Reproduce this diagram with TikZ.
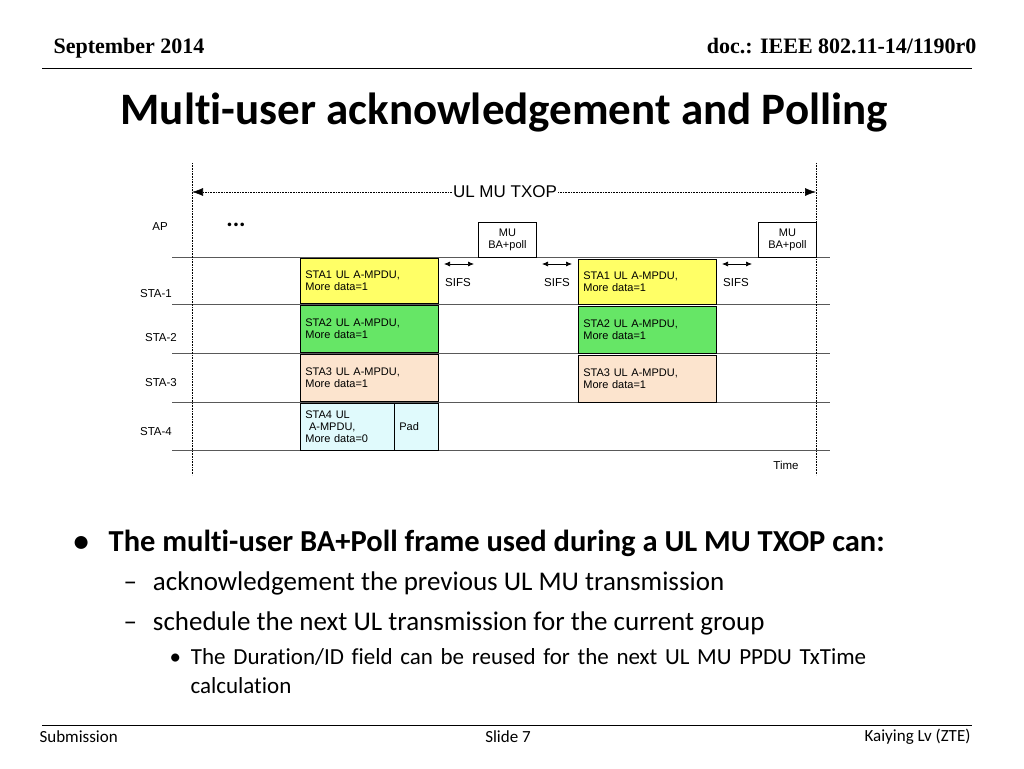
\documentclass[tikz,border=0pt]{standalone}
\usepackage{fontspec}
\setmainfont{Carlito}[Ligatures=NoCommon]
\newfontfamily\arial{Liberation Sans}
\newfontfamily\timesfont{Liberation Serif}
\usetikzlibrary{arrows.meta}

\definecolor{yel}{RGB}{255,255,102}
\definecolor{grn}{RGB}{102,230,102}
\definecolor{peach}{RGB}{252,228,206}
\definecolor{cyn}{RGB}{224,250,252}

\begin{document}
\begin{tikzpicture}[x=1pt, y=-1pt,
    >=Latex,
    frame style/.style={draw, line width=0.8pt, inner xsep=5pt, inner ysep=3pt, text width=#1, align=left, anchor=north west, font=\arial\fontsize{11}{12}\selectfont},
    frame style/.default=128pt,
    sta style/.style={font=\arial\fontsize{11.5}{12}\selectfont},
    line style/.style={line width=0.7pt, gray!70!black},
    time style/.style={densely dotted, line width=0.6pt}
]
\useasboundingbox (0,0) rectangle (1024,768);

% Header
\node[font=\timesfont\bfseries\fontsize{22}{24}\selectfont, anchor=west] (date) at (50,48) {September 2014};
\node[font=\timesfont\bfseries\fontsize{22}{24}\selectfont, anchor=east] (doc) at (980,46) {doc.: IEEE 802.11-14/1190r0};
\draw[line width=0.8pt] (42,68) -- (972,68);
\node[font=\bfseries\fontsize{45}{48}\selectfont, anchor=west] (title) at (117,113) {Multi-user acknowledgement and Polling};

% Time lines
\foreach \y in {257,304,353,402,450} {
    \draw[line style] (172,\y) -- (830,\y);
}
\draw[time style] (192,163) -- (192,475);
\draw[time style] (816,163) -- (816,475);

% TXOP arrow
\node[font=\arial\fontsize{17}{18}\selectfont, inner sep=1pt] (txop) at (505,192) {UL MU TXOP};
\coordinate (txopL) at (192,192);
\coordinate (txopR) at (816,192);
\draw[time style, ->, >={Latex[length=11pt,width=8pt]}] (txop) -- (txopL);
\draw[time style, ->, >={Latex[length=11pt,width=8pt]}] (txop) -- (txopR);

% Station labels
\node[sta style] (ap) at (160,227) {AP};
\node[sta style] (sta1) at (156,294) {STA-1};
\node[sta style] (sta2) at (161,338) {STA-2};
\node[sta style] (sta3) at (161,383) {STA-3};
\node[sta style] (sta4) at (156,432) {STA-4};
\node[font=\bfseries\fontsize{24}{24}\selectfont] (dots) at (236,225) {...};

% First group
\node[frame style, fill=yel, minimum height=45pt] (d11) at (300,258) {STA1 UL A-MPDU,\\More data=1};
\node[frame style, fill=grn, minimum height=47pt] (d12) at (300,305) {STA2 UL A-MPDU,\\More data=1};
\node[frame style, fill=peach, minimum height=47pt] (d13) at (300,354) {STA3 UL A-MPDU,\\More data=1};
\node[frame style=84pt, fill=cyn, minimum height=47pt] (d14) at (300,403) {STA4 UL\\\ A-MPDU,\\More data=0};
\node[frame style=34pt, fill=cyn, minimum height=47pt] (pad) at (394,403) {Pad\\[1.7em]};

% Second group
\node[frame style, fill=yel, minimum height=45pt] (d21) at (578,259) {STA1 UL A-MPDU,\\More data=1};
\node[frame style, fill=grn, minimum height=47pt] (d22) at (578,306) {STA2 UL A-MPDU,\\More data=1};
\node[frame style, fill=peach, minimum height=47pt] (d23) at (578,355) {STA3 UL A-MPDU,\\More data=1};

% MU BA+poll frames
\node[frame style=48pt, fill=white, minimum height=35pt, align=center] (ba1) at (478,222) {MU\\BA+poll};
\node[frame style=48pt, fill=white, minimum height=35pt, align=center] (ba2) at (758,222) {MU\\BA+poll};

% SIFS
\foreach \x/\n/\lx in {444/s1/458, 542/s2/557, 722/s3/736} {
    \coordinate (\n a) at (\x,264);
    \coordinate (\n b) at (\x+30,264);
    \draw[<->, line width=0.7pt, >={Latex[length=6pt,width=5pt]}] (\n a) -- (\n b);
    \node[sta style] (\n) at (\lx,283) {SIFS};
}
\node[sta style] (time) at (786,465) {Time};

% Bullets
\node[anchor=west, font=\bfseries\fontsize{30.5}{33}\selectfont] (b1) at (70,543) {\textbullet\hspace{20pt}The multi-user BA+Poll frame used during a UL MU TXOP can:};
\node[anchor=west, font=\fontsize{27}{30}\selectfont] (b2) at (120,583) {--\hspace{16pt}acknowledgement the previous UL MU transmission};
\node[anchor=west, font=\fontsize{27}{30}\selectfont] (b3) at (120,623) {--\hspace{16pt}schedule the next UL transmission for the current group};
\node[anchor=north west, font=\fontsize{23}{29}\selectfont, text width=760pt, align=left] (b4) at (166,645) {\textbullet\hspace{10pt}The Duration/ID field can be reused for the next UL MU PPDU TxTime\\\hspace{21pt}calculation};

% Footer
\draw[line width=0.6pt] (42,725) -- (972,725);
\node[anchor=west, font=\fontsize{17}{18}\selectfont] (sub) at (36,737) {Submission};
\node[font=\fontsize{17}{18}\selectfont] (slide) at (508,737) {Slide 7};
\node[anchor=east, font=\fontsize{17}{18}\selectfont] (auth) at (974,737) {Kaiying Lv (ZTE)};
\end{tikzpicture}
\end{document}
